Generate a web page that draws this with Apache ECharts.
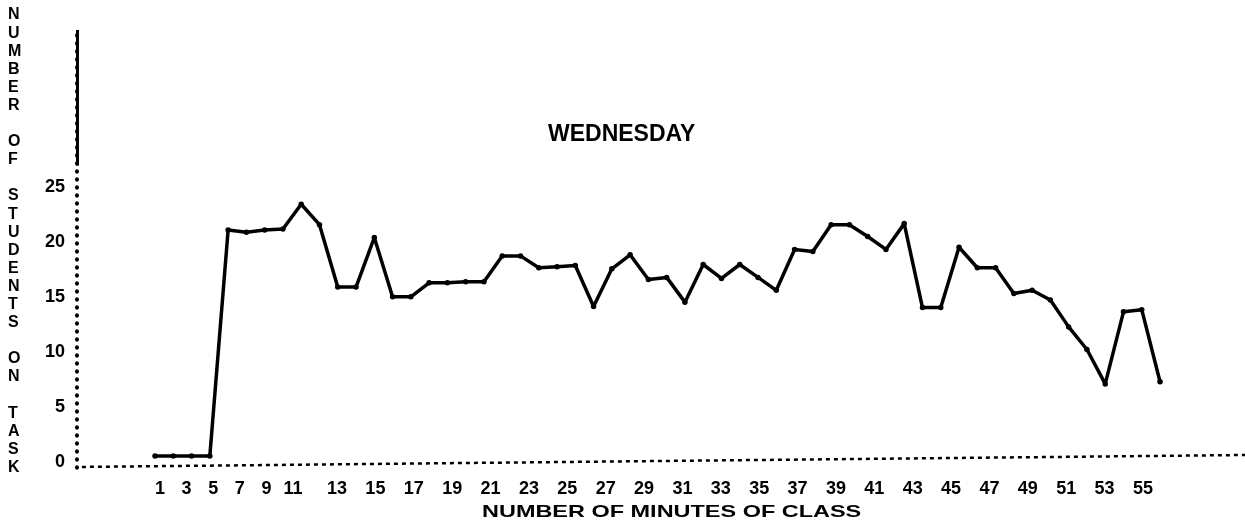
<!DOCTYPE html>
<html>
<head>
<meta charset="utf-8">
<script src="https://cdn.jsdelivr.net/npm/echarts@6/dist/echarts.min.js"></script>
<style>
html,body{margin:0;padding:0;background:#fff;}
#chart{width:1245px;height:524px;}
</style>
</head>
<body>
<div id="chart"></div>
<script>
// Minutes of class (x) and number of students on task (y)
const minutes = [1,2,3,4,5,6,7,8,9,10,11,12,13,14,15,16,17,18,19,20,21,22,23,24,25,26,27,28,29,30,31,32,33,34,35,36,37,38,39,40,41,42,43,44,45,46,47,48,49,50,51,52,53,54,55,56];
const studentsOnTask = [0,0,0,0,21.0,20.8,21.0,21.1,23.4,21.5,15.7,15.7,20.3,14.8,14.8,16.1,16.1,16.2,16.2,18.6,18.6,17.5,17.6,17.7,13.9,17.4,18.7,16.4,16.6,14.3,17.8,16.5,17.8,16.6,15.4,19.2,19.0,21.5,21.5,20.4,19.2,21.6,13.8,13.8,19.4,17.5,17.5,15.1,15.4,14.5,12.0,9.9,6.7,13.4,13.6,6.9];
const xTickLabelsEarly = [1,3,5,7,9,11];
const xTickLabelsLate = [13,15,17,19,21,23,25,27,29,31,33,35,37,39,41,43,45,47,49,51,53,55];
const yTickLabels = [0,5,10,15,20,25];
const chartTitle = 'WEDNESDAY';
const xAxisTitle = 'NUMBER OF MINUTES OF CLASS';
const yAxisTitle = 'NUMBER OF STUDENTS ON TASK';

const FONT = '"Liberation Sans", Arial, sans-serif';
const yNameStacked = yAxisTitle.split(' ').map(w => w.split('').join('\n')).join('\n\n');

const X_MIN = -3.27, X_MAX = 60.65, Y_MIN = -1.1, Y_MAX = 39.6;

const series = [{
  type: 'line',
  xAxisIndex: 0, yAxisIndex: 0,
  data: minutes.map((m, i) => [m, studentsOnTask[i]]),
  symbol: 'circle', symbolSize: 5.5, showSymbol: true,
  lineStyle: { color: '#000', width: 3.5, join: 'round', cap: 'round' },
  itemStyle: { color: '#000' },
  animation: false,
  markLine: {
    silent: true, symbol: 'none', label: { show: false }, animation: false,
    data: [
      // solid upper part of the vertical axis
      [{ coord: [X_MIN, 27.0], lineStyle: { color: '#000', width: 3, type: 'solid' } }, { coord: [X_MIN, Y_MAX] }],
      // slightly slanted dashed horizontal axis
      [{ coord: [-3.0, -1.02], lineStyle: { color: '#000', width: 2.5, type: [4, 4] } }, { coord: [X_MAX, 0.09] }]
    ]
  }
}];

const labelStyle = { color: '#000', fontFamily: FONT, fontWeight: 'bold', fontSize: 18 };

const option = {
  backgroundColor: '#fff',
  animation: false,
  title: [
    { text: yNameStacked, left: 3, top: 1, textStyle: { color: '#000', fontFamily: FONT, fontWeight: 'bold', fontSize: 16, lineHeight: 18.1 } }
  ],
  graphic: [
    { type: 'text', x: 548, y: 123, silent: true,
      style: { text: chartTitle, fill: '#000', font: 'bold 23px ' + FONT, textVerticalAlign: 'top' } },
    { type: 'text', x: 482, y: 504, scaleX: 1.38, silent: true,
      style: { text: xAxisTitle, fill: '#000', font: 'bold 17px ' + FONT, textVerticalAlign: 'top' } }
  ],
  grid: [
    { left: 77, right: 0, top: 30, bottom: 56.2 },
    { left: 160, right: 952, top: 30, bottom: 62 },
    { left: 337, right: 102, top: 30, bottom: 62 },
    { left: 77, right: 0, top: 187, bottom: 62 }
  ],
  xAxis: [
    { type: 'value', gridIndex: 0, min: X_MIN, max: X_MAX,
      axisLine: { show: false }, axisTick: { show: false }, axisLabel: { show: false }, splitLine: { show: false } },
    { type: 'value', gridIndex: 1, min: xTickLabelsEarly[0], max: xTickLabelsEarly[xTickLabelsEarly.length - 1], interval: 1,
      axisLine: { show: false }, axisTick: { show: false }, splitLine: { show: false },
      axisLabel: Object.assign({ margin: 18, formatter: v => (xTickLabelsEarly.indexOf(v) >= 0 ? String(v) : '') }, labelStyle) },
    { type: 'value', gridIndex: 2, min: xTickLabelsLate[0], max: xTickLabelsLate[xTickLabelsLate.length - 1], interval: 1,
      axisLine: { show: false }, axisTick: { show: false }, splitLine: { show: false },
      axisLabel: Object.assign({ margin: 18, formatter: v => (xTickLabelsLate.indexOf(v) >= 0 ? String(v) : '') }, labelStyle) },
    { type: 'value', gridIndex: 3, show: false }
  ],
  yAxis: [
    { type: 'value', gridIndex: 0, min: Y_MIN, max: Y_MAX,
      axisLine: { show: true, onZero: false, lineStyle: { color: '#000', width: 4, type: [0.5, 7.5], cap: 'round' } },
      axisTick: { show: false }, axisLabel: { show: false }, splitLine: { show: false } },
    { type: 'value', gridIndex: 1, show: false },
    { type: 'value', gridIndex: 2, show: false },
    { type: 'value', gridIndex: 3, min: yTickLabels[0], max: yTickLabels[yTickLabels.length - 1], interval: 5,
      axisLine: { show: false }, axisTick: { show: false }, splitLine: { show: false },
      axisLabel: Object.assign({ margin: 12, formatter: v => (yTickLabels.indexOf(v) >= 0 ? String(v) : '') }, labelStyle) }
  ],
  series: series
};

const chart = echarts.init(document.getElementById('chart'), null, { renderer: 'canvas' });
chart.setOption(option);
</script>
</body>
</html>
